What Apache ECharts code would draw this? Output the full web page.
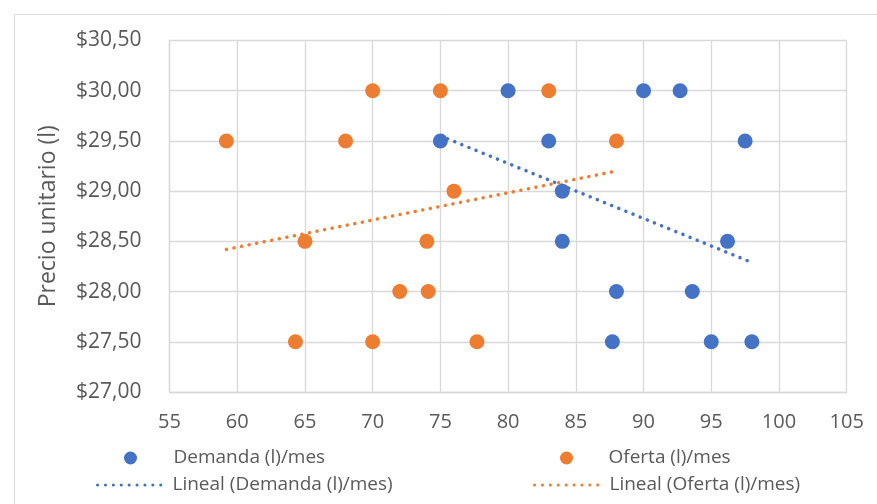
<!DOCTYPE html>
<html>
<head>
<meta charset="utf-8">
<script src="https://cdn.jsdelivr.net/npm/echarts@6/dist/echarts.min.js"></script>
<style>
html,body{margin:0;padding:0;background:#fff;}
#chart{width:877px;height:504px;}
</style>
</head>
<body>
<div id="chart"></div>
<script>
// Demanda (l)/mes: x = quantity, y = unit price
var demandaX = [75, 80, 83, 84, 84, 88, 87.7, 90, 92.7, 93.6, 95, 96.2, 97.5, 98];
var demandaY = [29.5, 30, 29.5, 29, 28.5, 28, 27.5, 30, 30, 28, 27.5, 28.5, 29.5, 27.5];
// Oferta (l)/mes
var ofertaX = [59.2, 64.3, 65, 68, 70, 70, 72, 74, 74.1, 75, 76, 77.7, 83, 88];
var ofertaY = [29.5, 27.5, 28.5, 29.5, 30, 27.5, 28, 28.5, 28, 30, 29, 27.5, 30, 29.5];
// Linear trendline end points
var trendDemandaX = [75, 98];
var trendDemandaY = [29.55, 28.29];
var trendOfertaX = [59.2, 88];
var trendOfertaY = [28.42, 29.2];

var seriesNames = ['Demanda (l)/mes', 'Oferta (l)/mes', 'Lineal (Demanda (l)/mes)', 'Lineal (Oferta (l)/mes)'];

function pairs(xs, ys) { return xs.map(function (x, i) { return [x, ys[i]]; }); }

var BLUE = '#4472C4', ORANGE = '#ED7D31', TXT = '#595959', GRID = '#D9D9D9';
var FONT = 'Open Sans';

var chart = echarts.init(document.getElementById('chart'), null, { renderer: 'canvas' });

var legendText = { color: TXT, fontFamily: FONT, fontSize: 19, lineHeight: 24 };
function leg(name, left, top, w, extra) {
  var o = {
    data: [name], left: left, top: top, padding: 0, itemGap: 0,
    itemWidth: w, itemHeight: 13, textStyle: legendText, selectedMode: false
  };
  if (extra) { for (var k in extra) o[k] = extra[k]; }
  return o;
}
var legLine = { itemStyle: { opacity: 0 }, lineStyle: { width: 3, type: [0.1, 7.8], cap: 'round' } };

chart.setOption({
  animation: false,
  backgroundColor: '#fff',
  graphic: [{
    type: 'rect', left: 12, top: 12, silent: true,
    shape: { x: 0, y: 0, width: 900, height: 600 },
    style: { fill: 'none', stroke: GRID, lineWidth: 1 }
  }],
  grid: { left: 169.5, right: 30.3, top: 40.5, bottom: 112 },
  xAxis: {
    type: 'value', min: 55, max: 105, interval: 5,
    axisLine: { show: true, lineStyle: { color: GRID, width: 1.3 } },
    axisTick: { show: false },
    splitLine: { show: true, lineStyle: { color: GRID, width: 1.3 } },
    axisLabel: { color: TXT, fontFamily: FONT, fontSize: 20, margin: 20 }
  },
  yAxis: {
    type: 'value', min: 27, max: 30.5, interval: 0.5,
    name: 'Precio unitario (l)', nameLocation: 'middle', nameGap: 110,
    nameTextStyle: { color: TXT, fontFamily: FONT, fontSize: 23 },
    axisLine: { show: true, lineStyle: { color: GRID, width: 1.3 } },
    axisTick: { show: false },
    splitLine: { show: true, lineStyle: { color: GRID, width: 1.3 } },
    axisLabel: {
      color: TXT, fontFamily: FONT, fontSize: 21, margin: 28,
      formatter: function (v) { return '$' + v.toFixed(2).replace('.', ','); }
    }
  },
  legend: [
    leg(seriesNames[0], 124, 446, 76),
    leg(seriesNames[1], 560, 446, 74),
    leg(seriesNames[2], 96, 473, 70, legLine),
    leg(seriesNames[3], 533, 473, 70, legLine)
  ],
  series: [
    {
      name: seriesNames[0], type: 'scatter', symbol: 'circle', symbolSize: 15,
      itemStyle: { color: BLUE, opacity: 1 }, data: pairs(demandaX, demandaY), z: 2
    },
    {
      name: seriesNames[1], type: 'scatter', symbol: 'circle', symbolSize: 15,
      itemStyle: { color: ORANGE, opacity: 1 }, data: pairs(ofertaX, ofertaY), z: 2
    },
    {
      name: seriesNames[2], type: 'line', symbol: 'none', showSymbol: false,
      lineStyle: { color: BLUE, width: 3.5, type: [0.1, 7.6], cap: 'round' },
      itemStyle: { color: BLUE },
      data: pairs(trendDemandaX, trendDemandaY), z: 3
    },
    {
      name: seriesNames[3], type: 'line', symbol: 'none', showSymbol: false,
      lineStyle: { color: ORANGE, width: 3.5, type: [0.1, 7.6], cap: 'round' },
      itemStyle: { color: ORANGE },
      data: pairs(trendOfertaX, trendOfertaY), z: 3
    }
  ]
});
</script>
</body>
</html>
